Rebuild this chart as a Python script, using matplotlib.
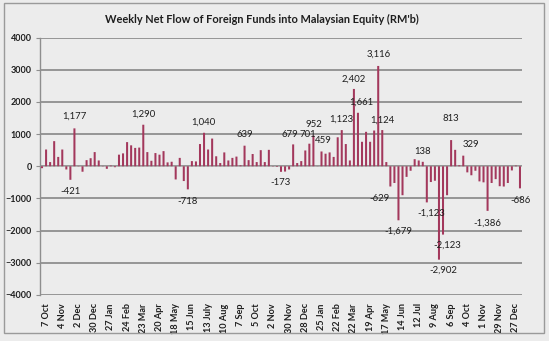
import numpy as np
import matplotlib
matplotlib.use("Agg")
from matplotlib import pyplot as plt
from matplotlib.patches import Rectangle

# weekly net flow, RM million
flows = [
    -60, 520, 130, 780, 290, 520, -100, -421, 1177, 10,
    -170, 190, 250, 440, 180, 10, -80, 20, -30, 360,
    400, 750, 650, 570, 580, 1290, 440, 170, 410, 360,
    470, 120, 140, -410, 260, -460, -718, 160, 150, 690,
    1040, 520, 860, 310, 100, 430, 180, 260, 300, 30,
    639, 190, 380, 130, 500, 130, 510, -10, -20, -173,
    -165, -100, 679, 100, 160, 490, 701, 952, 5, 459,
    390, 430, 290, 900, 1123, 690, 180, 2402, 1661, 760,
    1070, 760, 1110, 3116, 1124, 130, -629, -520, -1679, -900,
    -330, -140, 220, 180, 138, -1123, -490, -450, -2902, -2123,
    -900, 813, 510, 30, 329, -190, -280, -140, -470, -500,
    -1386, -520, -400, -620, -630, -520, -130, 20, -686,
]

tick_labels = ["7 Oct", "4 Nov", "2 Dec", "30 Dec", "27 Jan", "24 Feb", "23 Mar",
               "20 Apr", "18 May", "15 Jun", "13 July", "10 Aug", "7 Sep", "5 Oct",
               "2 Nov", "30 Nov", "28 Dec", "25 Jan", "22 Feb", "22 Mar", "19 Apr",
               "17 May", "14 Jun", "12 Jul", "9 Aug", "6 Sep", "4 Oct", "1 Nov",
               "29 Nov", "27 Dec"]

# labelled bars: (bar index, x shift px, y shift px)
labelled = [
    (7, 0, -12), (8, 0, 12), (25, 0, 11), (36, 0, -12), (40, -1, 11),
    (50, 0, 11), (59, 0, -11), (62, -3, 10), (66, -2, 9), (67, 0, 11),
    (69, 2, 11), (74, 0, 11), (77, 0, 10), (78, 3, 11), (83, 0, 12),
    (84, 0, 10), (86, -11, -12), (88, 0, -11), (94, 0, 10), (95, 4, -11),
    (98, 4, -11), (99, 4, -11), (101, 0, 22), (104, 8, 11), (110, 0, -12),
    (118, 1, -12),
]

bg = "#ececec"
bar_color = "#a3385c"
grid_color = "#8e8e8e"
txt = "#1e1e1e"
plt.rcParams['font.family'] = ['Lato', 'DejaVu Sans']

fig = plt.figure(figsize=(5.49, 3.41), dpi=100, facecolor=bg)
fig.patches.append(Rectangle((4 / 549, 8 / 341), 540 / 549, 330 / 341,
                             transform=fig.transFigure, fill=False,
                             edgecolor="#9a9a9a", lw=1.0))
ax = fig.add_axes([40 / 549, 46 / 341, 482 / 549, 257.5 / 341])
ax.set_facecolor(bg)

x = np.arange(len(flows))
ax.bar(x, flows, width=0.5, color=bar_color, zorder=3, snap=False, linewidth=0)
ax.axhline(0, color="#b5b5b5", lw=0.7, zorder=2)

ax.set_xlim(-0.5, len(flows) - 0.5)
ax.set_ylim(-4000, 4000)
ax.set_yticks(np.arange(-4000, 4001, 1000))
ax.yaxis.grid(True, color=grid_color, lw=1.3, zorder=1)
ax.tick_params(axis="y", labelsize=6.5, colors=txt, length=3, color=grid_color, pad=3)
for lab in ax.get_yticklabels():
    lab.set_fontweight("bold")

ax.set_xticks(np.arange(1, len(flows), 4)[:len(tick_labels)])
ax.set_xticklabels(tick_labels, rotation=90, fontsize=6.6, color=txt, fontweight="bold")
ax.tick_params(axis="x", length=0, pad=6)

for side in ["top", "right", "bottom"]:
    ax.spines[side].set_visible(False)
ax.spines["left"].set_color(grid_color)
ax.spines["left"].set_linewidth(1.0)

for i, dx, dy in labelled:
    v = flows[i]
    ax.annotate(f"{v:,}", xy=(i, v), xytext=(dx, dy), textcoords="offset pixels",
                ha="center", va="center", fontsize=6.9, color=txt, zorder=4)

fig.text(262 / 549, 1 - 19 / 341, "Weekly Net Flow of Foreign Funds into Malaysian Equity (RM'b)",
         ha="center", va="center", fontsize=7.9, fontweight="bold", color=txt)

fig.savefig("out.png", dpi=100, facecolor=bg)
